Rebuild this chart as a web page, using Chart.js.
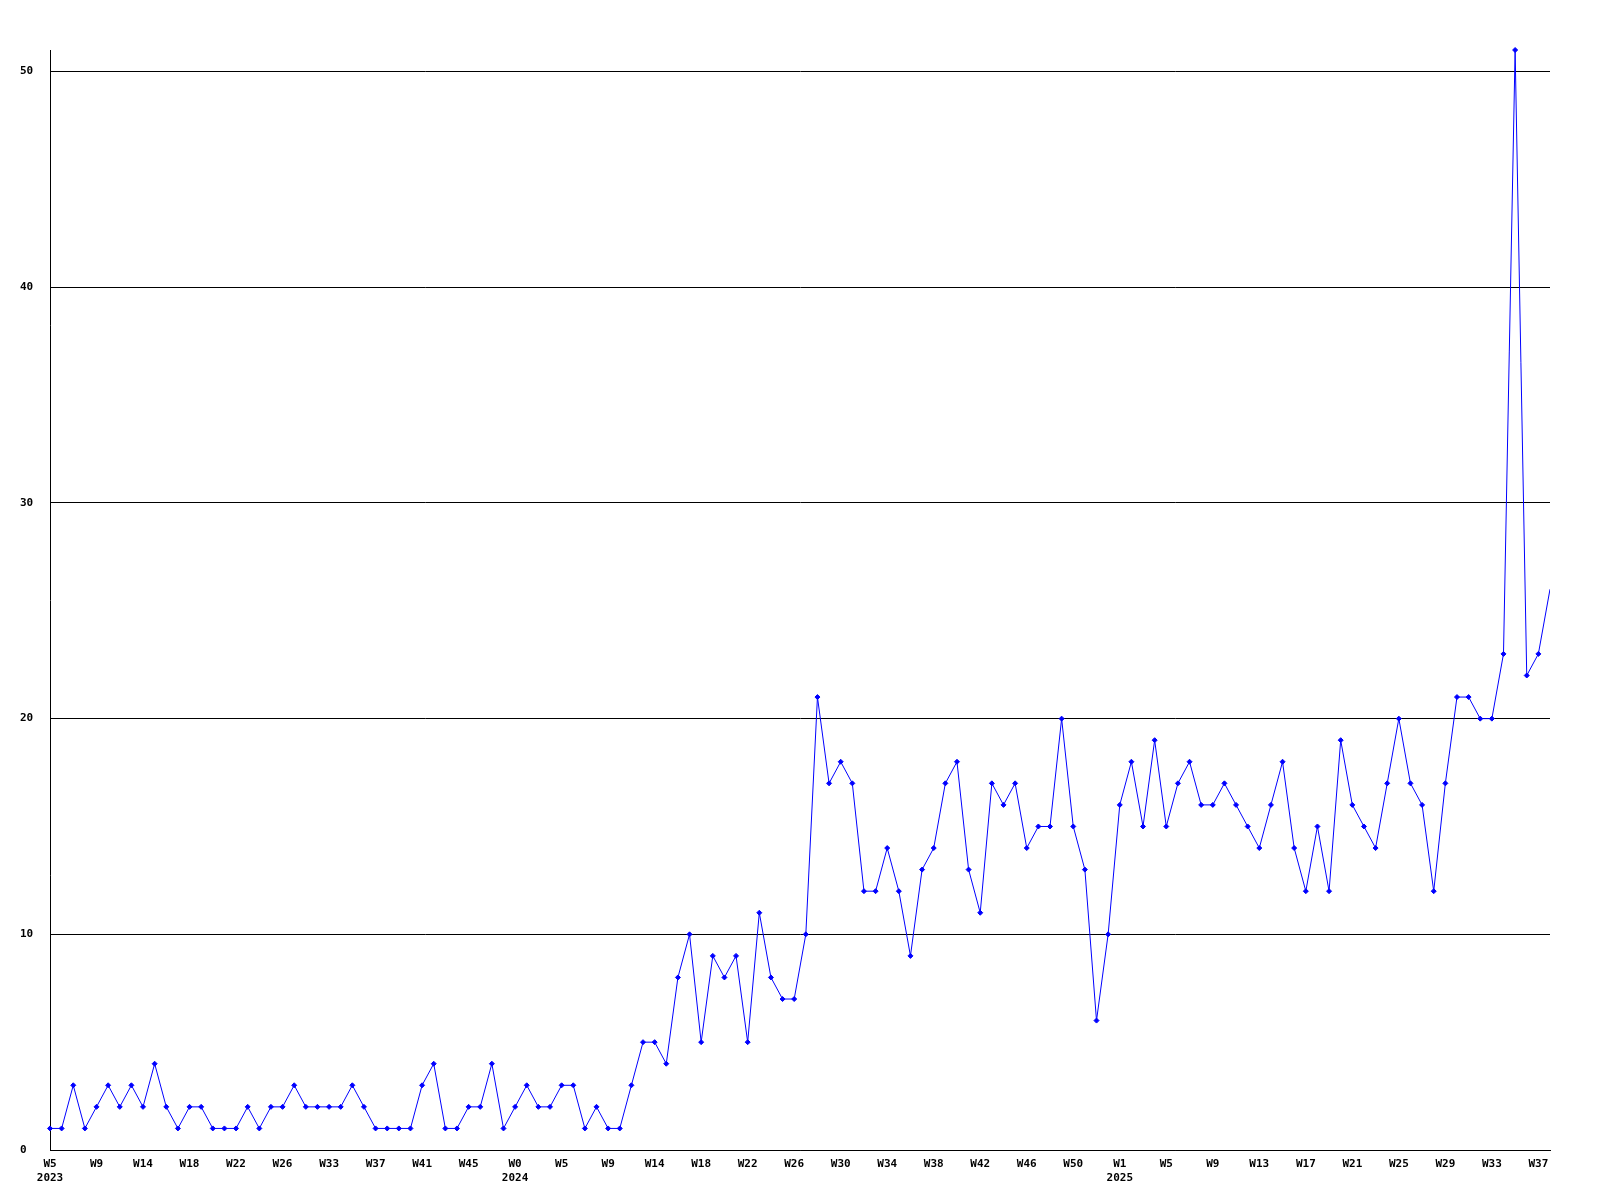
<!DOCTYPE html>
<html>
<head>
<meta charset="utf-8">
<title>Weekly count</title>
<script src="https://cdn.jsdelivr.net/npm/chart.js@4.4.1/dist/chart.umd.min.js"></script>
<style>
    html, body { margin: 0; padding: 0; background: #fff; }
    #wrap { width: 1600px; height: 1200px; }
</style>
</head>
<body>
<div id="wrap"><canvas id="weeklyChart" width="1600" height="1200"></canvas></div>
<script>
// weekly values, W5 2023 .. W38 2025 (one point per week shown)
const counts = [
    1, 1, 3, 1, 2, 3, 2, 3, 2, 4, 2, 1, 2, 2, 1, 1, 1, 2, 1, 2, 2, 3, 2, 2, 2, 2, 3, 2, 1, 1, 1, 1,
    3, 4, 1, 1, 2, 2, 4, 1, 2, 3, 2, 2, 3, 3, 1, 2, 1, 1, 3, 5, 5, 4,
    8, 10, 5, 9, 8, 9, 5, 11, 8, 7, 7, 10, 21, 17, 18, 17, 12, 12, 14, 12, 9, 13, 14,
    17, 18, 13, 11, 17, 16, 17, 14, 15, 15, 20, 15, 13, 6, 10, 16, 18, 15, 19, 15, 17, 18, 16, 16, 17, 16,
    15, 14, 16, 18, 14, 12, 15, 12, 19, 16, 15, 14, 17, 20, 17, 16, 12, 17, 21, 21, 20, 20, 23, 51, 22, 23, 26
];

// x labels, one every 4 points
const tickLabels = [
    'W5', 'W9', 'W14', 'W18', 'W22', 'W26', 'W33', 'W37', 'W41', 'W45',
    'W0', 'W5', 'W9', 'W14', 'W18', 'W22', 'W26', 'W30', 'W34', 'W38', 'W42', 'W46', 'W50',
    'W1', 'W5', 'W9', 'W13', 'W17', 'W21', 'W25', 'W29', 'W33', 'W37'
];
const yearLabels = { 0: '2023', 10: '2024', 23: '2025' };
const tickEvery = 4;
const yTicks = [0, 10, 20, 30, 40, 50];

const weeks = counts.map((_, i) => {
    if (i % tickEvery !== 0) return '';
    const k = i / tickEvery;
    if (k >= tickLabels.length) return '';
    return yearLabels[k] ? [tickLabels[k], yearLabels[k]] : tickLabels[k];
});

const labelFont = { family: '"DejaVu Sans Mono", monospace', size: 11, weight: 'bold', lineHeight: '14px' };

const ctx = document.getElementById('weeklyChart').getContext('2d');
window.weeklyChart = new Chart(ctx, {
    type: 'line',
    data: {
        labels: weeks,
        datasets: [{
            data: counts,
            borderColor: '#0000ff',
            backgroundColor: '#0000ff',
            borderWidth: 1,
            tension: 0,
            fill: false,
            clip: { left: 5, top: 5, right: 0, bottom: 5 },
            pointStyle: 'rectRot',
            // last week is still running: no marker on the edge
            pointRadius: c => c.dataIndex === counts.length - 1 ? 0 : 2.5,
            pointBorderWidth: 1,
            pointHoverRadius: 2.5
        }]
    },
    options: {
        responsive: false,
        animation: false,
        layout: {
            padding: { top: 50, right: 50, left: 20, bottom: 0 }
        },
        plugins: {
            legend: { display: false },
            tooltip: { enabled: false },
            title: { display: false }
        },
        scales: {
            x: {
                type: 'category',
                offset: false,
                grid: { display: true, drawOnChartArea: false, drawTicks: false },
                border: { display: true, color: '#000', width: 1 },
                ticks: {
                    autoSkip: false,
                    maxRotation: 0,
                    minRotation: 0,
                    padding: 7,
                    color: '#000',
                    font: labelFont,
                    callback: function(value, index) {
                        return weeks[index] === '' ? null : weeks[index];
                    }
                },
                afterFit: function(scale) { scale.height = 50; }
            },
            y: {
                min: 0,
                max: Math.max(...counts),
                grid: { color: '#000', lineWidth: 1, drawTicks: false },
                border: { display: true, color: '#000', width: 1 },
                afterBuildTicks: function(scale) {
                    scale.ticks = yTicks.map(v => ({ value: v }));
                },
                ticks: {
                    crossAlign: 'far',
                    padding: 0,
                    color: '#000',
                    font: labelFont
                },
                afterFit: function(scale) { scale.width = 30; }
            }
        }
    }
});
</script>
</body>
</html>
